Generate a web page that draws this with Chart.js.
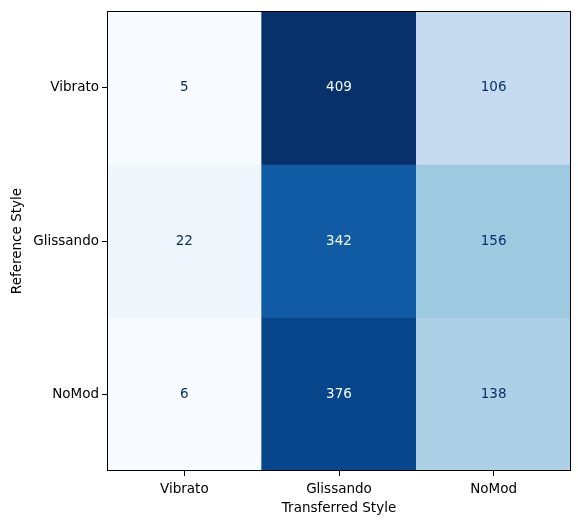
<!DOCTYPE html>
<html>
<head>
<meta charset="utf-8">
<script src="https://cdn.jsdelivr.net/npm/chart.js@4"></script>
<style>
  body { margin: 0; background: #fff; }
  #wrap { width: 578px; height: 525px; }
</style>
</head>
<body>
<div id="wrap"><canvas id="cm"></canvas></div>
<script>
// confusion matrix counts, rows = reference style, cols = transferred style
var rowLabels = ['Vibrato', 'Glissando', 'NoMod'];
var colLabels = ['Vibrato', 'Glissando', 'NoMod'];
var vibratoRow = [5, 409, 106];
var glissandoRow = [22, 342, 156];
var noModRow = [6, 376, 138];
var counts = [vibratoRow, glissandoRow, noModRow];

// matplotlib "Blues" anchors
var blues = ['#f7fbff', '#deebf7', '#c6dbef', '#9ecae1', '#6baed6', '#4292c6', '#2171b5', '#08519c', '#08306b'];

function hex2rgb(h) {
  return [parseInt(h.substr(1, 2), 16), parseInt(h.substr(3, 2), 16), parseInt(h.substr(5, 2), 16)];
}

function bluesAt(t) {
  t = Math.max(0, Math.min(1, t));
  var pos = t * (blues.length - 1);
  var i = Math.min(Math.floor(pos), blues.length - 2);
  var f = pos - i;
  var a = hex2rgb(blues[i]), b = hex2rgb(blues[i + 1]);
  var c = a.map(function (v, k) { return Math.round(v + (b[k] - v) * f); });
  return 'rgb(' + c.join(',') + ')';
}

var all = [].concat(vibratoRow, glissandoRow, noModRow);
var vmin = Math.min.apply(null, all);
var vmax = Math.max.apply(null, all);
var thresh = (vmin + vmax) / 2;

var datasets = counts.map(function (row, r) {
  return {
    label: rowLabels[r],
    data: row.map(function () { return [r, r + 1]; }),
    counts: row,
    backgroundColor: row.map(function (v) { return bluesAt((v - vmin) / (vmax - vmin)); }),
    borderWidth: 0,
    grouped: false,
    barPercentage: 1,
    categoryPercentage: 1
  };
});

var FONT = 'DejaVu Sans';

var cellText = {
  id: 'cellText',
  afterDatasetsDraw: function (chart) {
    var ctx = chart.ctx;
    ctx.save();
    ctx.font = '13.5px "' + FONT + '"';
    ctx.textAlign = 'center';
    ctx.textBaseline = 'middle';
    chart.data.datasets.forEach(function (ds, i) {
      chart.getDatasetMeta(i).data.forEach(function (el, j) {
        var v = ds.counts[j];
        var p = el.getCenterPoint();
        ctx.fillStyle = v > thresh ? blues[0] : blues[blues.length - 1];
        ctx.fillText(String(v), p.x, p.y);
      });
    });
    // frame around the image
    var a = chart.chartArea;
    ctx.strokeStyle = '#000';
    ctx.lineWidth = 1;
    ctx.strokeRect(Math.round(a.left) + 0.5, Math.round(a.top) + 0.5,
      Math.round(a.right - a.left) - 1, Math.round(a.bottom - a.top) - 1);
    ctx.restore();
  }
};

new Chart(document.getElementById('cm'), {
  type: 'bar',
  data: { labels: colLabels, datasets: datasets },
  plugins: [cellText],
  options: {
    responsive: true,
    maintainAspectRatio: false,
    animation: false,
    layout: { padding: { left: 0, top: 9, right: 7, bottom: 0 } },
    plugins: { legend: { display: false }, tooltip: { enabled: false } },
    scales: {
      x: {
        grid: { offset: false, drawOnChartArea: false, tickLength: 5, tickColor: '#000' },
        border: { display: false },
        ticks: { color: '#000', padding: 5, font: { family: FONT, size: 13.5 } },
        title: { display: true, text: 'Transferred Style', color: '#000', padding: { top: 0, bottom: 8 }, font: { family: FONT, size: 13.5 } },
        afterFit: function (s) { s.height = 54; }
      },
      y: {
        type: 'linear',
        min: 0,
        max: 3,
        reverse: true,
        grid: { drawOnChartArea: false, tickLength: 5, tickColor: '#000' },
        border: { display: false },
        afterBuildTicks: function (s) {
          s.ticks = rowLabels.map(function (_, i) { return { value: i + 0.5 }; });
        },
        ticks: {
          color: '#000',
          padding: 3,
          font: { family: FONT, size: 13.5 },
          callback: function (v) { return rowLabels[Math.floor(v)]; }
        },
        title: { display: true, text: 'Reference Style', color: '#000', padding: { top: 9, bottom: 0 }, font: { family: FONT, size: 13.5 } },
        afterFit: function (s) { s.width = 107; }
      }
    }
  }
});
</script>
</body>
</html>
